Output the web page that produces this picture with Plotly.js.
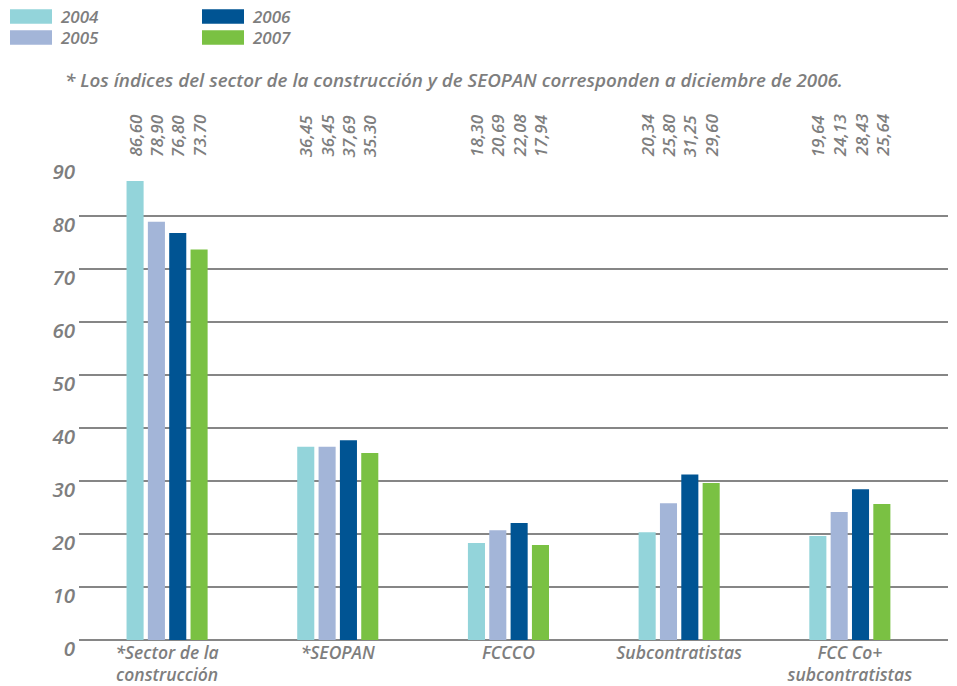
<!DOCTYPE html>
<html>
<head>
<meta charset="utf-8">
<script src="https://cdn.plot.ly/plotly-3.0.1.min.js"></script>
<style>html,body{margin:0;padding:0;background:#fff;}#chart{width:957px;height:686px;}</style>
</head>
<body>
<div id="chart"></div>
<script>
const categories = ["*Sector de la<br>construcción", "*SEOPAN", "FCCCO", "Subcontratistas", "FCC Co+<br>subcontratistas"];
const years = ["2004", "2005", "2006", "2007"];
const v2004 = [86.60, 36.45, 18.30, 20.34, 19.64];
const v2005 = [78.90, 36.45, 20.69, 25.80, 24.13];
const v2006 = [76.80, 37.69, 22.08, 31.25, 28.43];
const v2007 = [73.70, 35.30, 17.94, 29.60, 25.64];
const lab2004 = ["86,60", "36,45", "18,30", "20,34", "19,64"];
const lab2005 = ["78,90", "36,45", "20,69", "25,80", "24,13"];
const lab2006 = ["76,80", "37,69", "22,08", "31,25", "28,43"];
const lab2007 = ["73.70", "35.30", "17,94", "29,60", "25,64"];
const subtitle = "* Los índices del sector de la construcción y de SEOPAN corresponden a diciembre de 2006.";
const yTicks = [0, 10, 20, 30, 40, 50, 60, 70, 80, 90];

const values = [v2004, v2005, v2006, v2007];
const labels = [lab2004, lab2005, lab2006, lab2007];
const colors = ["#93D4DA", "#A3B5D8", "#005493", "#7AC143"];

const W = 957, H = 686;
const M = {l: 79, r: 9, t: 163, b: 46};
const xRange = [-0.516, 4.575];
const bargap = 0.5;
const FONT = "Open Sans, sans-serif";
const GRAY = "#7e7e7e";
const WT = 600;

const plotW = W - M.l - M.r, plotH = H - M.t - M.b;
const catPx = plotW / (xRange[1] - xRange[0]);
const slot = catPx * (1 - bargap) / years.length;
const px2x = px => (px - M.l) / plotW;
const py2y = py => (H - M.b - py) / plotH;

const traces = years.map((y, i) => ({
  type: "bar",
  name: y,
  x: categories,
  y: values[i],
  marker: {color: colors[i]},
  showlegend: false,
  hoverinfo: "skip"
}));

const annotations = [];
years.forEach((y, i) => {
  categories.forEach((c, j) => {
    annotations.push({
      x: c, xref: "x", y: 1, yref: "paper",
      yanchor: "bottom", xanchor: "center",
      textangle: -90, showarrow: false, borderpad: 0,
      xshift: (i - (years.length - 1) / 2) * slot, yshift: 5,
      text: labels[i][j],
      font: {family: FONT, size: 17, color: GRAY, style: "italic", weight: WT}
    });
  });
});

annotations.push({
  x: px2x(63), xref: "paper", y: py2y(80), yref: "paper",
  xanchor: "left", yanchor: "middle", showarrow: false,
  text: subtitle,
  font: {family: FONT, size: 18.8, color: GRAY, style: "italic", weight: WT}
});

// legend built from the series
const shapes = [];
years.forEach((y, i) => {
  const col = Math.floor(i / 2), row = i % 2;
  const x0 = 10 + col * 192, yc = 16.5 + row * 21;
  shapes.push({
    type: "rect", xref: "paper", yref: "paper",
    x0: px2x(x0), x1: px2x(x0 + 42), y0: py2y(yc - 7.2), y1: py2y(yc + 7.2),
    fillcolor: colors[i], line: {width: 0}
  });
  annotations.push({
    x: px2x(x0 + 49), xref: "paper", y: py2y(yc), yref: "paper",
    xanchor: "left", yanchor: "middle", showarrow: false, borderpad: 0,
    text: y,
    font: {family: FONT, size: 17, color: GRAY, style: "italic", weight: WT}
  });
});

const layout = {
  width: W, height: H,
  margin: M,
  paper_bgcolor: "#fff", plot_bgcolor: "#fff",
  barmode: "group",
  bargap: bargap,
  bargroupgap: 0.2,
  showlegend: false,
  xaxis: {
    type: "category",
    range: xRange,
    showgrid: false, zeroline: false, showline: false,
    ticks: "", automargin: false,
    tickfont: {family: FONT, size: 17.5, color: GRAY, style: "italic", weight: WT}
  },
  yaxis: {
    range: [0, 90],
    tickvals: yTicks,
    showgrid: true, gridcolor: "#868686", gridwidth: 2.8,
    zeroline: true, zerolinecolor: "#868686", zerolinewidth: 2.8,
    showline: false, ticks: "", automargin: false,
    ticklabelshift: 9,
    ticklabelstandoff: 3,
    tickfont: {family: FONT, size: 20.5, color: GRAY, style: "italic", weight: WT}
  },
  annotations: annotations,
  shapes: shapes
};

Plotly.newPlot("chart", traces, layout, {displayModeBar: false, staticPlot: true});
</script>
</body>
</html>
